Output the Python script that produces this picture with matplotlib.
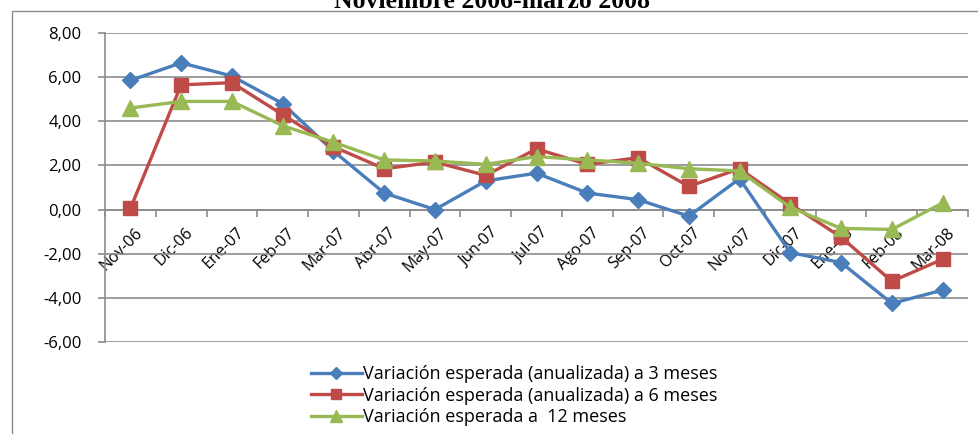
import matplotlib.pyplot as plt
import matplotlib.transforms as mtransforms
from matplotlib.patches import Rectangle

plt.rcParams['font.family'] = ['Open Sans', 'DejaVu Sans']

meses = ["Nov-06", "Dic-06", "Ene-07", "Feb-07", "Mar-07", "Abr-07", "May-07", "Jun-07",
         "Jul-07", "Ago-07", "Sep-07", "Oct-07", "Nov-07", "Dic-07", "Ene-08", "Feb-08", "Mar-08"]
var_3m = [5.85, 6.65, 6.05, 4.80, 2.65, 0.75, 0.00, 1.30, 1.65, 0.75, 0.45, -0.30, 1.40,
          -1.95, -2.40, -4.25, -3.65]
var_6m = [0.05, 5.65, 5.75, 4.30, 2.85, 1.85, 2.15, 1.55, 2.75, 2.05, 2.35, 1.05, 1.85,
          0.25, -1.25, -3.25, -2.25]
var_12m = [4.60, 4.90, 4.90, 3.80, 3.05, 2.25, 2.20, 2.05, 2.40, 2.25, 2.10, 1.85, 1.75,
           0.10, -0.85, -0.90, 0.30]
etiquetas = ["Variación esperada (anualizada) a 3 meses",
             "Variación esperada (anualizada) a 6 meses",
             "Variación esperada a  12 meses"]

W, H = 979, 434
fig = plt.figure(figsize=(W / 100, H / 100), dpi=100)

# marco exterior del grafico
fig.patches.append(Rectangle((12 / W, -0.1), 1.2, 1 - 11 / H + 0.1, transform=fig.transFigure,
                             fill=False, edgecolor="#8c8c8c", linewidth=1.0))
fig.text(492 / W, 1 - 8 / H, "Noviembre 2006-marzo 2008", ha="center", va="baseline",
         fontsize=18.5, fontweight="bold", family="Liberation Serif")

ax = fig.add_axes([105 / W, 1 - 342 / H, (968 - 105) / W, (342 - 33) / H])
x = list(range(len(meses)))

ax.plot(x, var_3m, color="#4A7EBB", lw=2.4, marker="D", ms=8, label=etiquetas[0], zorder=3)
ax.plot(x, var_6m, color="#BE4B48", lw=2.4, marker="s", ms=10, label=etiquetas[1], zorder=4)
ax.plot(x, var_12m, color="#98B954", lw=2.4, marker="^", ms=11, label=etiquetas[2], zorder=5)

ax.set_xlim(-0.5, len(meses) - 0.5)
ax.set_ylim(-6, 8)
ax.set_yticks(range(-6, 9, 2))
ax.set_yticklabels([f"{v:.2f}".replace(".", ",") for v in range(-6, 9, 2)], fontsize=12)
ax.grid(axis="y", color="#8c8c8c", lw=1.2)
ax.set_axisbelow(True)

for s in ["top", "right"]:
    ax.spines[s].set_visible(False)
ax.spines["left"].set_color("#8c8c8c")
ax.spines["left"].set_linewidth(1.2)
ax.spines["bottom"].set_position(("data", 0))
ax.spines["bottom"].set_color("#8c8c8c")
ax.spines["bottom"].set_linewidth(1.2)
ax.tick_params(axis="y", length=5, width=1.2, color="#8c8c8c", pad=12)

ax.set_xticks([i - 0.5 for i in range(len(meses) + 1)], minor=True)
ax.set_xticks(x)
ax.set_xticklabels(meses, rotation=45, ha="right", va="top", rotation_mode="anchor", fontsize=11.5)
ax.tick_params(axis="x", which="major", length=0, pad=11)
ax.tick_params(axis="x", which="minor", length=5, width=1.2, color="#8c8c8c", direction="out")
offset = mtransforms.ScaledTranslation(4 / 100, 0, fig.dpi_scale_trans)
for lab in ax.get_xticklabels():
    lab.set_transform(lab.get_transform() + offset)

fig.legend(loc="upper left", bbox_to_anchor=(302 / W, 1 - 356 / H), frameon=False,
           fontsize=13, handlelength=2.8, handletextpad=0.1, labelspacing=0.2,
           borderpad=0, markerscale=0.75)

fig.savefig("out.png", dpi=100)
